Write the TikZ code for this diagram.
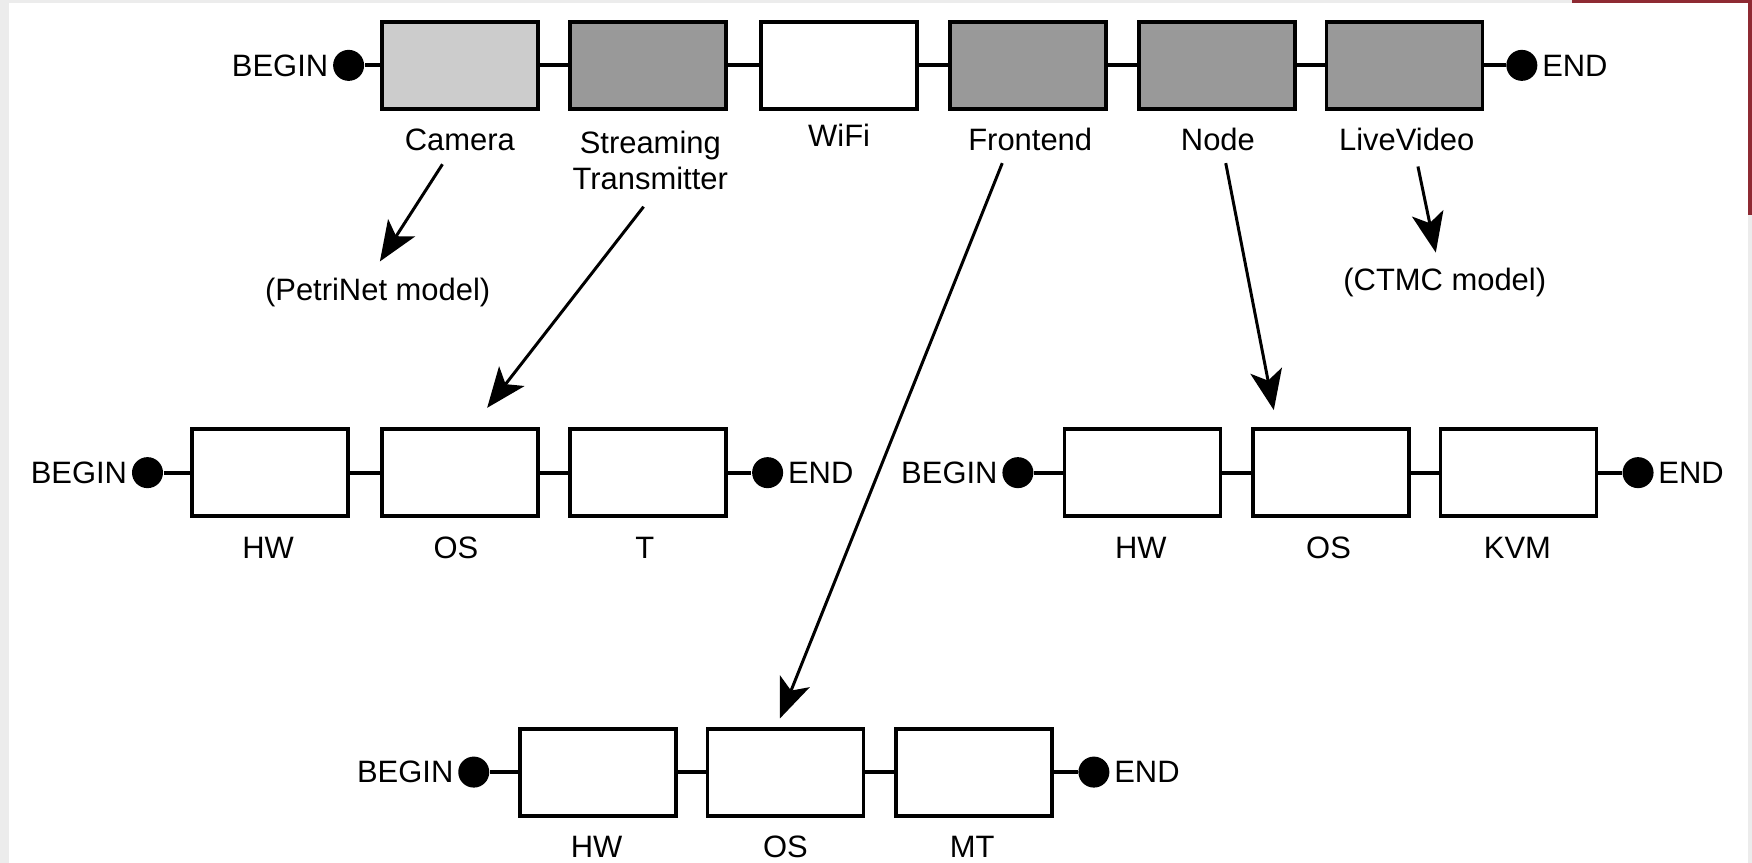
\documentclass[tikz,border=0pt]{standalone}
\usepackage{fontspec}
\setmainfont{Liberation Sans}
\usetikzlibrary{arrows.meta}

\definecolor{lightbox}{HTML}{CCCCCC}
\definecolor{darkbox}{HTML}{999999}
\definecolor{framegray}{HTML}{ECECEC}
\definecolor{winred}{HTML}{8E2A33}

\begin{document}
\begin{tikzpicture}[x=0.11173mm, y=-0.11173mm,
  block/.style={draw, line width=1.1pt, minimum width=15.6mm, minimum height=8.7mm, inner sep=0pt},
  term/.style={circle, fill, inner sep=0pt, minimum size=3.1mm},
  lbl/.style={font=\fontsize{8.8}{10.5}\selectfont, align=center},
  link/.style={line width=1.1pt},
  model/.style={-{Stealth[length=4mm, width=3.2mm, inset=1mm]}, line width=0.85pt}
]

% Page frame
\useasboundingbox (0,0) rectangle (1568,772);
\fill[framegray] (0,0) rectangle (1568,772);
\fill[white] (8,2.7) rectangle (1564.5,772);
\fill[winred] (1407,0) rectangle (1568,2.7);
\fill[winred] (1564.5,0) rectangle (1568,192);

% Row heights
\def\ya{58.5}
\def\yb{423}
\def\yc{691}

% Top chain
\node[term] (tb) at (312,\ya) {};
\node[block, fill=lightbox] (cam) at (411.5,\ya) {};
\node[block, fill=darkbox] (str) at (580,\ya) {};
\node[block, fill=white] (wifi) at (751,\ya) {};
\node[block, fill=darkbox] (fe) at (920,\ya) {};
\node[block, fill=darkbox] (nd) at (1089,\ya) {};
\node[block, fill=darkbox] (lv) at (1257,\ya) {};
\node[term] (te) at (1362,\ya) {};
\draw[link] (tb) -- (cam) -- (str) -- (wifi) -- (fe) -- (nd) -- (lv) -- (te);

\node[lbl, anchor=east, inner sep=1pt] (tbl) at (tb.west) {BEGIN};
\node[lbl, anchor=west, inner sep=1pt] (tel) at (te.east) {END};
\node[lbl, anchor=base] (caml) at (411.5,135) {Camera};
\node[lbl, anchor=base] (strl) at (582,170) {Streaming\\Transmitter};
\node[lbl, anchor=base] (wifil) at (751,131) {WiFi};
\node[lbl, anchor=base] (fel) at (922,135) {Frontend};
\node[lbl, anchor=base] (ndl) at (1090,135) {Node};
\node[lbl, anchor=base] (lvl) at (1259,135) {LiveVideo};

% Models
\node[lbl] (petri) at (338,262) {(PetriNet model)};
\node[lbl] (ctmc) at (1293,253) {(CTMC model)};

% Transmitter chain
\node[term] (ab) at (132,\yb) {};
\node[block] (ahw) at (242,\yb) {};
\node[block] (aos) at (411.5,\yb) {};
\node[block] (at) at (580,\yb) {};
\node[term] (ae) at (687,\yb) {};
\draw[link] (ab) -- (ahw) -- (aos) -- (at) -- (ae);
\node[lbl, anchor=east, inner sep=1pt] (abl) at (ab.west) {BEGIN};
\node[lbl, anchor=west, inner sep=1pt] (ael) at (ae.east) {END};
\node[lbl, anchor=base] (ahwl) at (240,500) {HW};
\node[lbl, anchor=base] (aosl) at (408,500) {OS};
\node[lbl, anchor=base] (atl) at (577,500) {T};

% Node chain
\node[term] (bb) at (911,\yb) {};
\node[block] (bhw) at (1022.5,\yb) {};
\node[block] (bos) at (1191,\yb) {};
\node[block] (bkvm) at (1359,\yb) {};
\node[term] (be) at (1466,\yb) {};
\draw[link] (bb) -- (bhw) -- (bos) -- (bkvm) -- (be);
\node[lbl, anchor=east, inner sep=1pt] (bbl) at (bb.west) {BEGIN};
\node[lbl, anchor=west, inner sep=1pt] (bel) at (be.east) {END};
\node[lbl, anchor=base] (bhwl) at (1021,500) {HW};
\node[lbl, anchor=base] (bosl) at (1189,500) {OS};
\node[lbl, anchor=base] (bkvml) at (1358,500) {KVM};

% Frontend chain
\node[term] (cb) at (424,\yc) {};
\node[block] (chw) at (535,\yc) {};
\node[block] (cos) at (703,\yc) {};
\node[block] (cmt) at (871.5,\yc) {};
\node[term] (ce) at (979,\yc) {};
\draw[link] (cb) -- (chw) -- (cos) -- (cmt) -- (ce);
\node[lbl, anchor=east, inner sep=1pt] (cbl) at (cb.west) {BEGIN};
\node[lbl, anchor=west, inner sep=1pt] (cel) at (ce.east) {END};
\node[lbl, anchor=base] (chwl) at (534,767) {HW};
\node[lbl, anchor=base] (cosl) at (703,767) {OS};
\node[lbl, anchor=base] (cmtl) at (870,767) {MT};

% Arrow ends
\coordinate (camA) at (396,147);
\coordinate (camB) at (340,234);
\coordinate (strA) at (576,185);
\coordinate (strB) at (436,365);
\coordinate (feA) at (897,146);
\coordinate (feB) at (698,643);
\coordinate (ndA) at (1097,146);
\coordinate (ndB) at (1140,367);
\coordinate (lvA) at (1269,149);
\coordinate (lvB) at (1285,226);

% Draw refinement arrows
\draw[model] (camA) -- (camB);
\draw[model] (strA) -- (strB);
\draw[model] (feA) -- (feB);
\draw[model] (ndA) -- (ndB);
\draw[model] (lvA) -- (lvB);

\end{tikzpicture}
\end{document}
